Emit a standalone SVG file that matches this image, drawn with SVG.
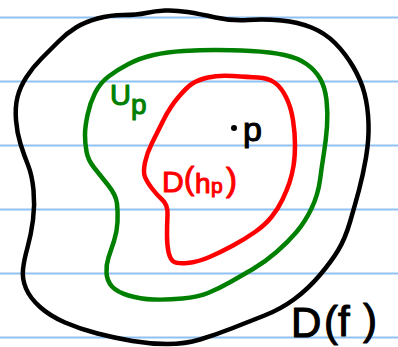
<svg xmlns="http://www.w3.org/2000/svg" width="398" height="347" viewBox="0 0 398 347">
<style>
.rule{stroke:#8fc1f2;stroke-width:2;fill:none}
.curve{fill:none;stroke-width:4.5;stroke-linejoin:round;stroke-linecap:round}
.lbl{font-family:"Liberation Sans","DejaVu Sans",sans-serif;stroke-width:1.1;stroke-linejoin:round}
</style>
<rect width="398" height="347" fill="#ffffff"/>
<g id="paper-lines">
<line class="rule" x1="0" y1="17.5" x2="398" y2="17.5"/>
<line class="rule" x1="0" y1="81.5" x2="398" y2="81.5"/>
<line class="rule" x1="0" y1="145.5" x2="398" y2="145.5"/>
<line class="rule" x1="0" y1="209.5" x2="398" y2="209.5"/>
<line class="rule" x1="0" y1="273.5" x2="398" y2="273.5"/>
<line class="rule" x1="0" y1="337.5" x2="398" y2="337.5"/>
</g>
<g id="region-Df">
<path class="curve" stroke="#000000" d="M146,13 Q155,11 165,10.5 Q175,10 187.5,12 Q200,14 215.5,17.5 Q231,21 248,20 Q265,19 281.5,20.5 Q298,22 311.5,27.5 Q325,33 335,43 Q345,53 353,66.5 Q361,80 364.5,93.5 Q368,107 368.5,123.5 Q369,140 366,157.5 Q363,175 359,190 Q355,205 350,222 Q345,239 338,250.5 Q331,262 319.5,275.5 Q308,289 294.5,299 Q281,309 264.5,315.5 Q248,322 231.5,328.5 Q215,335 200,339.5 Q185,344 167.5,344 Q150,344 132.5,341 Q115,338 97.5,333.5 Q80,329 65,322.5 Q50,316 40,307 Q30,298 26,288.5 Q22,279 23,269.5 Q24,260 27.5,247.5 Q31,235 33,220 Q35,205 33.5,190 Q32,175 28,165 Q24,155 20.5,144 Q17,133 16,120 Q15,107 17.5,97 Q20,87 26.5,77 Q33,67 41.5,58.5 Q50,50 58.5,41.5 Q67,33 76,27.5 Q85,22 97.5,18.5 Q110,15 123.5,15 Q137,15 146,13 Z"/>
<text class="lbl" fill="#000000" stroke="#000000" font-size="42"><tspan x="291" y="337">D</tspan><tspan x="324" y="336">(</tspan><tspan x="338" y="336">f</tspan><tspan x="363" y="334">)</tspan></text>
</g>
<g id="region-Up">
<path class="curve" stroke="#008000" d="M215.5,50 Q231,50 251,51 Q271,52 284.5,55 Q298,58 306.5,64 Q315,70 320,78.5 Q325,87 326.5,100 Q328,113 327,126.5 Q326,140 324,152.5 Q322,165 320,180 Q318,195 311.5,208.5 Q305,222 296.5,232 Q288,242 276.5,252 Q265,262 253,269 Q241,276 229.5,282.5 Q218,289 208,293 Q198,297 182.5,298.5 Q167,300 153.5,299.5 Q140,299 128.5,295.5 Q117,292 112,286.5 Q107,281 106.5,273 Q106,265 108.5,257.5 Q111,250 114,241 Q117,232 117.5,222 Q118,212 117,203.5 Q116,195 108,185 Q100,175 94,167.5 Q88,160 86.5,151.5 Q85,143 85,135 Q85,127 87.5,115 Q90,103 95,93 Q100,83 108.5,76.5 Q117,70 128.5,64 Q140,58 153.5,55 Q167,52 183.5,51 Q200,50 215.5,50 Z"/>
<text class="lbl" fill="#008000" stroke="#008000" font-size="29"><tspan x="110" y="105">U</tspan><tspan x="131" y="114" font-size="28">p</tspan></text>
</g>
<g id="region-Dhp">
<path class="curve" stroke="#ff0000" d="M233,76 Q248,77 258,77.5 Q268,78 274.5,82.5 Q281,87 286,97 Q291,107 293,120 Q295,133 295,145 Q295,157 293.5,166 Q292,175 289.5,182.5 Q287,190 282.5,199.5 Q278,209 271.5,217 Q265,225 255,232 Q245,239 233,245.5 Q221,252 209.5,257 Q198,262 187.5,263 Q177,264 173.5,261.5 Q170,259 168.5,252 Q167,245 167,235 Q167,225 167.5,215 Q168,205 162.5,200 Q157,195 152,188.5 Q147,182 145,177 Q143,172 145,162.5 Q147,153 152,143 Q157,133 163.5,120 Q170,107 178.5,97 Q187,87 192.5,83.5 Q198,80 208,77.5 Q218,75 233,76 Z"/>
<text class="lbl" fill="#ff0000" stroke="#ff0000" font-size="30"><tspan x="162" y="192">D</tspan><tspan x="184" y="189" font-size="31">(</tspan><tspan x="195" y="193" font-size="28">h</tspan><tspan x="211" y="193" font-size="21">p</tspan><tspan x="226" y="191" font-size="33">)</tspan></text>
</g>
<g id="point-p">
<circle cx="234" cy="128" r="3" fill="#000000"/>
<text class="lbl" fill="#000000" stroke="#000000" font-size="34" x="243" y="141">p</text>
</g>
</svg>
